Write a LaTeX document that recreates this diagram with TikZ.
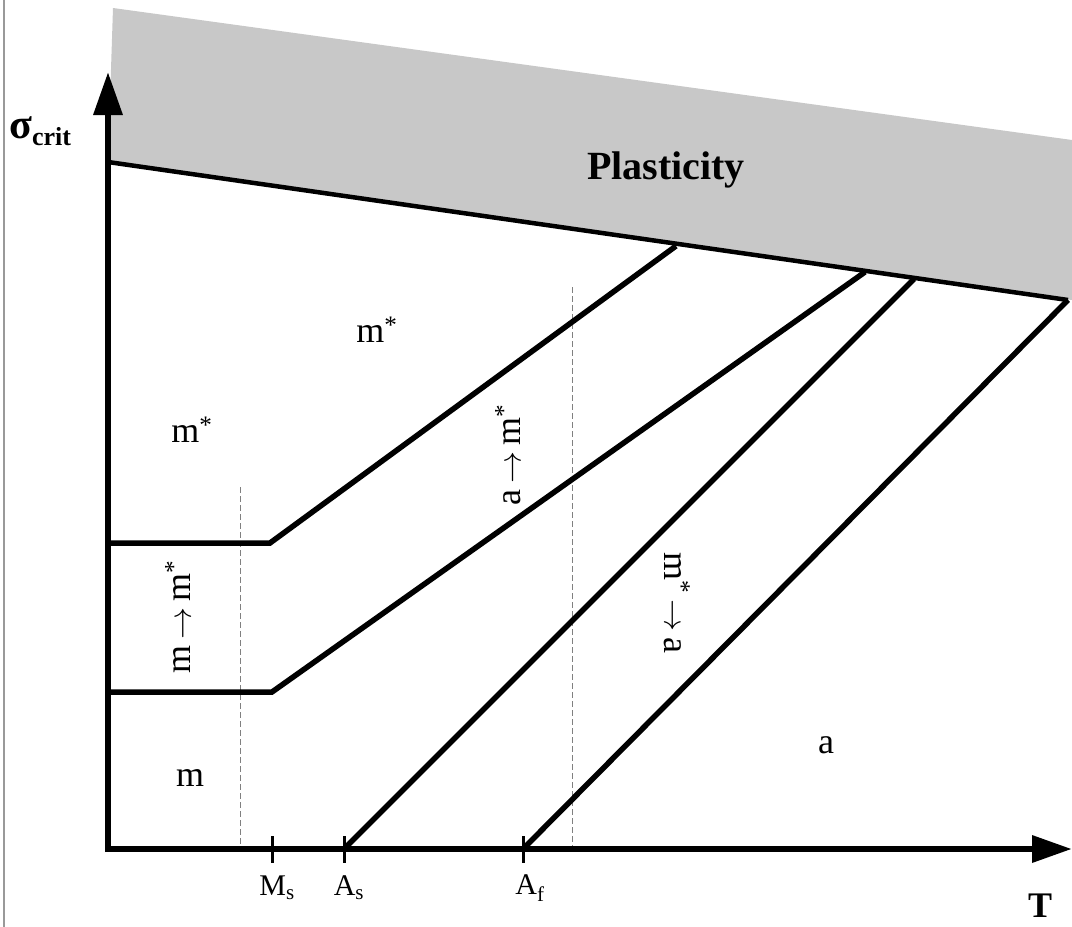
\documentclass[tikz,border=0pt]{standalone}
\usepackage{fontspec}
\setmainfont{Liberation Serif}
\usetikzlibrary{arrows.meta}
\newcommand{\bigarr}{\resizebox{32pt}{!}{$\rightarrow$}}
\begin{document}
\begin{tikzpicture}[x=1pt,y=-1pt,
  axisline/.style={line width=6.5pt},
  bndline/.style={line width=5.5pt, line join=miter},
  plastline/.style={line width=4.5pt},
  tickmark/.style={line width=3pt},
  guide/.style={gray, line width=1pt, dash pattern=on 6pt off 3pt},
  region/.style={font=\fontsize{36}{36}\selectfont, inner sep=0pt},
  ticklbl/.style={font=\fontsize{30}{30}\selectfont, inner sep=0pt}]
\useasboundingbox (0,0) rectangle (1072,927);
\fill[white] (0,0) rectangle (1072,927);
% left frame line
\coordinate (ft) at (4,0);
\coordinate (fb) at (4,927);
\draw[gray!80, line width=2pt] (ft) -- (fb);
% plasticity region
\coordinate (p1) at (113,8);
\coordinate (p2) at (1072,140);
\coordinate (p3) at (1072,300);
\coordinate (p4) at (108,162);
\fill[fill={rgb,255:red,200;green,200;blue,200}] (p1) -- (p2) -- (p3) -- (p4) -- cycle;
\draw[plastline] (p4) -- (1068,300);
\node[font=\fontsize{40}{40}\selectfont\bfseries, inner sep=0pt] (plast) at (666,170) {Plasticity};
% guides
\coordinate (g1t) at (240,487);
\coordinate (g1b) at (240,849);
\coordinate (g2t) at (572,287);
\coordinate (g2b) at (572,849);
\draw[guide] (g1t) -- (g1b);
\draw[guide] (g2t) -- (g2b);
% axes
\coordinate (O) at (108,849);
\coordinate (ytip) at (108,72);
\coordinate (xtip) at (1072,849);
\draw[axisline, -{Triangle[length=43pt,width=28pt]}] (108,852) -- (ytip);
\draw[axisline, -{Triangle[length=40pt,width=26pt]}] (105,849) -- (xtip);
% ticks
\coordinate (Ms) at (272,849);
\coordinate (As) at (344,849);
\coordinate (Af) at (523,849);
\draw[tickmark] (272,836) -- (272,863);
\draw[tickmark] (344,836) -- (344,863);
\draw[tickmark] (523,836) -- (523,863);
\node[ticklbl] (lMs) at (277,888) {M\textsubscript{s}};
\node[ticklbl] (lAs) at (349,888) {A\textsubscript{s}};
\node[ticklbl] (lAf) at (530,888) {A\textsubscript{f}};
% boundary lines
\coordinate (a1) at (108,543);
\coordinate (a2) at (270,543);
\coordinate (a3) at (676,246);
\draw[bndline] (a1) -- (a2) -- (a3);
\coordinate (b1) at (108,692);
\coordinate (b2) at (272,692);
\coordinate (b3) at (865,272);
\draw[bndline] (b1) -- (b2) -- (b3);
\coordinate (c3) at (914,279);
\draw[bndline] (As) -- (c3);
\coordinate (d3) at (1068,300);
\draw[bndline] (Af) -- (d3);
% axis labels
\node[anchor=west, inner sep=0pt] (sig) at (9,131) {{\fontsize{42}{42}\selectfont\bfseries σ}\raisebox{-7pt}{\fontsize{26}{26}\selectfont\bfseries crit}};
\node[font=\fontsize{36}{36}\selectfont\bfseries, inner sep=0pt] (T) at (1040,906) {T};
% region labels
\node[region] (r1) at (377,330) {m\textsuperscript{*}};
\node[region] (r2) at (192,430) {m\textsuperscript{*}};
\node[region] (r3) at (190,778) {m};
\node[region] (r4) at (826,745) {a};
\node[region, rotate=90] (r5) at (178,617) {m\,\bigarr\,m\textsuperscript{*}};
\node[region, rotate=90] (r6) at (508,455) {a\,\bigarr\,m\textsuperscript{*}};
\node[region, rotate=-90] (r7) at (677,603) {m\textsuperscript{*}\,\bigarr\,a};
\end{tikzpicture}
\end{document}
